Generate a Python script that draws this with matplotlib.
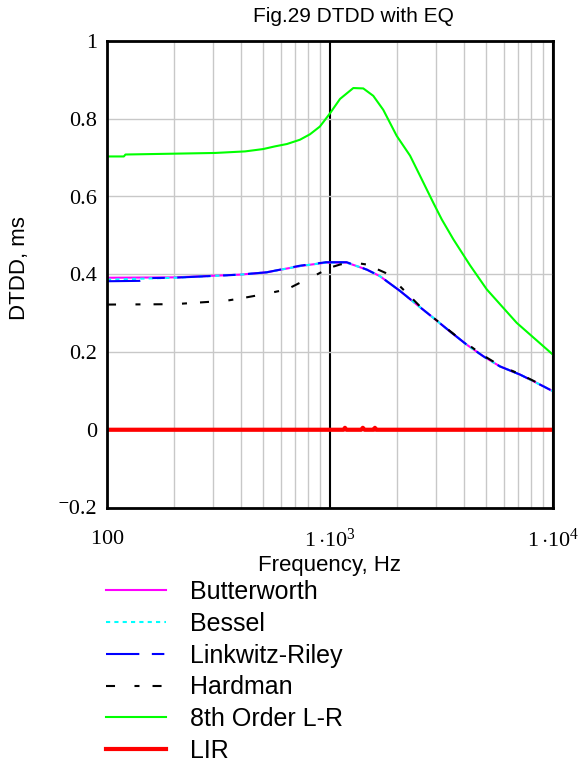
import matplotlib
matplotlib.use("Agg")
import matplotlib.pyplot as plt

plt.rcParams["font.family"] = ["Liberation Sans", "DejaVu Sans"]
plt.rcParams["mathtext.fontset"] = "custom"
plt.rcParams["mathtext.rm"] = "Liberation Serif"
plt.rcParams["mathtext.it"] = "Liberation Serif"
plt.rcParams["lines.scale_dashes"] = False

# data (frequency in Hz, DTDD in ms)
bw_freq = [100, 200, 395, 520, 733, 960, 1188, 1461, 1675, 2061, 2450, 2904, 3450, 4100, 4870, 5780, 7110, 8160, 10000]
bw_val = [0.391, 0.392, 0.399, 0.405, 0.421, 0.430, 0.430, 0.412, 0.395, 0.357, 0.322, 0.288, 0.253, 0.219, 0.189, 0.163, 0.142, 0.125, 0.099]

bes_freq = [100, 150, 200, 395, 520, 733, 960, 1188, 1461, 1675, 2061, 2450, 2904, 3450, 4100, 4870, 5780, 7110, 8160, 10000]
bes_val = [0.386, 0.389, 0.391, 0.399, 0.405, 0.421, 0.430, 0.430, 0.412, 0.395, 0.357, 0.322, 0.288, 0.253, 0.219, 0.189, 0.163, 0.142, 0.125, 0.099]

lr_freq = [100, 140, 150, 200, 395, 520, 733, 960, 1188, 1461, 1675, 2061, 2450, 2904, 3450, 4100, 4870, 5780, 7110, 8160, 10000]
lr_val = [0.382, 0.383, 0.390, 0.391, 0.399, 0.405, 0.422, 0.431, 0.431, 0.412, 0.395, 0.357, 0.322, 0.288, 0.253, 0.219, 0.189, 0.163, 0.142, 0.125, 0.099]

hd_freq = [100, 200, 344, 408, 520, 640, 733, 871, 1000, 1109, 1250, 1461, 1766, 2061, 2620, 3700, 4870, 5780, 7110, 8160, 10000]
hd_val = [0.322, 0.323, 0.332, 0.339, 0.350, 0.361, 0.378, 0.399, 0.417, 0.425, 0.431, 0.425, 0.404, 0.369, 0.309, 0.240, 0.191, 0.165, 0.143, 0.126, 0.100]

g_freq = [100, 119, 121, 305, 416, 501, 567, 641, 733, 813, 901, 1000, 1109, 1272, 1410, 1563, 1733, 1991, 2286, 2535, 2899, 3171, 3573, 4246, 5047, 6875, 10000]
g_val = [0.703, 0.703, 0.708, 0.712, 0.716, 0.722, 0.729, 0.735, 0.746, 0.760, 0.780, 0.814, 0.851, 0.879, 0.878, 0.859, 0.823, 0.756, 0.705, 0.653, 0.585, 0.541, 0.490, 0.423, 0.361, 0.275, 0.193]

lir_freq = [100, 1150, 1167, 1185, 1380, 1403, 1430, 1570, 1590, 1610, 10000]
lir_val = [0, 0, 0.005, 0, 0, 0.005, 0, 0, 0.005, 0, 0]

yticks = [-0.2, 0, 0.2, 0.4, 0.6, 0.8, 1]
ytick_labels = ["\u207b0.2", "0", "0.2", "0.4", "0.6", "0.8", "1"]
xticks = [100, 1000, 10000]
xtick_labels = [r"$100$", r"$1\,{\cdot}10^{3}$", r"$1\,{\cdot}10^{4}$"]
xminor = [200, 300, 400, 500, 600, 700, 800, 900, 2000, 3000, 4000, 5000, 6000, 7000, 8000, 9000]

fig = plt.figure(figsize=(5.79, 7.65), dpi=100)
ax = fig.add_axes([107 / 579, 1 - 507.5 / 765, 446 / 579, 466.5 / 765])

ax.plot(bw_freq, bw_val, color="#ff00ff", lw=1.5, label="Butterworth")
ax.plot(bes_freq, bes_val, color="#00ffff", lw=1.5, dashes=(3, 3), label="Bessel")
ax.plot(lr_freq, lr_val, color="#0000ff", lw=1.5, dashes=(24, 9, 9, 9), label="Linkwitz-Riley")
ax.plot(hd_freq, hd_val, color="black", lw=1.5, dashes=(6.5, 14, 3.6, 9.4), label="Hardman")
ax.plot(g_freq, g_val, color="#00ff00", lw=1.5, label="8th Order L-R")
ax.plot(lir_freq, lir_val, color="#ff0000", lw=3, label="LIR")

ax.set_xscale("log")
ax.set_xlim(100, 10000)
ax.set_ylim(-0.2, 1)
ax.set_yticks(yticks)
ax.set_yticklabels(ytick_labels, fontfamily=["Liberation Serif", "DejaVu Serif"], fontsize=16)
ax.set_xticks(xticks)
ax.set_xticklabels(xtick_labels, fontsize=16)
ax.set_xticks(xminor, minor=True)
ax.tick_params(which="both", length=0)
ax.tick_params(axis="x", pad=15)
ax.tick_params(axis="y", pad=7)
ax.set_axisbelow(True)
ax.grid(True, axis="y", color="#c8c8c8", lw=1)
ax.grid(True, axis="x", which="minor", color="#c8c8c8", lw=1)
ax.grid(True, axis="x", which="major", color="black", lw=1.5)
for s in ax.spines.values():
    s.set_linewidth(2)

fig.text(353 / 579, 1 - 17 / 765, "Fig.29 DTDD with EQ", ha="center", va="center", fontsize=15)
fig.text(330 / 579, 1 - 565 / 765, "Frequency, Hz", ha="center", va="center", fontsize=16)
fig.text(20 / 579, 1 - 268 / 765, "DTDD, ms", ha="center", va="center", rotation=90, fontsize=16)

fig.legend(loc="upper left", bbox_to_anchor=(106 / 579, 1 - 580 / 765), frameon=False,
           fontsize=18, handlelength=2.4, handletextpad=0.96, labelspacing=0.31,
           borderpad=0, borderaxespad=0)

fig.savefig("out.png", dpi=100)
